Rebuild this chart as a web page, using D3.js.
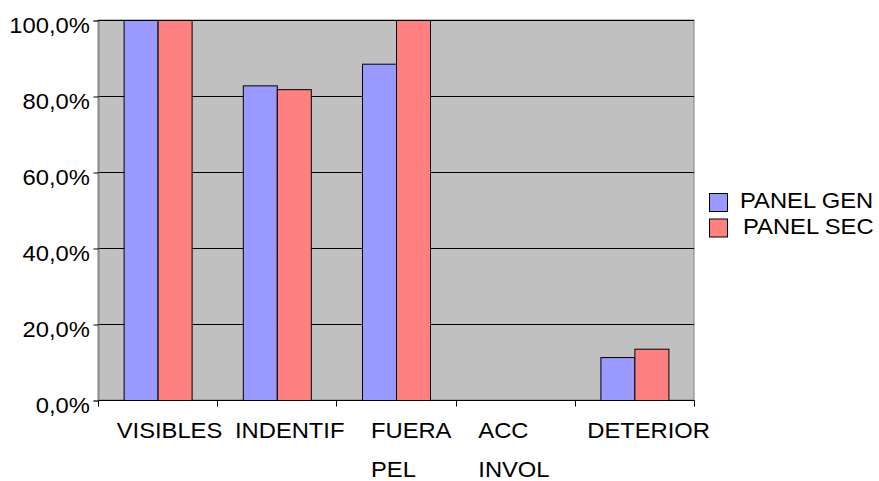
<!DOCTYPE html>
<html>
<head>
<meta charset="utf-8">
<script src="https://cdn.jsdelivr.net/npm/d3@7/dist/d3.min.js"></script>
<style>
  html, body { margin: 0; padding: 0; background: #fff; }
  svg { display: block; }
  text { font-family: "Liberation Sans", Arial, sans-serif; fill: #000; }
</style>
</head>
<body>
<svg id="chart" width="879" height="481"></svg>
<script>
// Category labels (each entry is the list of wrapped lines)
const categories = ["VISIBLES", "INDENTIF", "FUERA PEL", "ACC INVOL", "DETERIOR"];
const categoryLines = [["VISIBLES"], ["INDENTIF"], ["FUERA", "PEL"], ["ACC", "INVOL"], ["DETERIOR"]];
const seriesNames = ["PANEL GEN", "PANEL SEC"];
const panelGen = [100.0, 82.8, 88.5, 0, 11.3];
const panelSec = [100.0, 81.8, 100.0, 0, 13.5];
const yTicks = [0, 20, 40, 60, 80, 100];
const yTickLabels = ["0,0%", "20,0%", "40,0%", "60,0%", "80,0%", "100,0%"];

const colors = { "PANEL GEN": "#9999FF", "PANEL SEC": "#FF8080" };

// Plot frame
const plot = { left: 98, top: 20, right: 694, bottom: 400 };
// Horizontal start of each category label, measured from the band's left edge
const labelInset = [18.7, 17.8, 34.6, 22.7, 12.5];
// Text is drawn slightly wide
const FONT = 22, STRETCH = 1.08;

const svg = d3.select("#chart");

const x = d3.scaleBand().domain(categories).range([plot.left, plot.right]).padding(0);
const xs = d3.scaleBand().domain(seriesNames).range([0, x.bandwidth()])
  .paddingInner(0).paddingOuter(0.753);
const y = d3.scaleLinear().domain([0, 100]).range([plot.bottom, plot.top]);

// plot background
svg.append("rect")
  .attr("x", plot.left).attr("y", plot.top)
  .attr("width", plot.right - plot.left).attr("height", plot.bottom - plot.top)
  .attr("fill", "#C0C0C0").attr("stroke", "#808080").attr("stroke-width", 1);

// horizontal gridlines
svg.append("g").selectAll("line")
  .data(yTicks.filter(d => d > 0))
  .join("line")
  .attr("x1", plot.left).attr("x2", plot.right)
  .attr("y1", d => Math.round(y(d)) + 0.5).attr("y2", d => Math.round(y(d)) + 0.5)
  .attr("stroke", "#000").attr("stroke-width", 1);

// bars
const rows = categories.map((c, i) => ({ cat: c, values: [panelGen[i], panelSec[i]] }));
const groups = svg.append("g").selectAll("g")
  .data(rows)
  .join("g")
  .attr("transform", d => `translate(${x(d.cat)},0)`);

groups.selectAll("rect")
  .data(d => d.values.map((v, j) => ({ series: seriesNames[j], value: v })).filter(d => d.value > 0))
  .join("rect")
  .attr("x", d => xs(d.series) + 0.5)
  .attr("y", d => y(d.value) + 0.5)
  .attr("width", xs.bandwidth())
  .attr("height", d => y(0) - y(d.value))
  .attr("fill", d => colors[d.series])
  .attr("stroke", "#000").attr("stroke-width", 1);

// y axis
const yAxis = d3.axisLeft(y).tickValues(yTicks)
  .tickFormat((d, i) => yTickLabels[i]).tickSize(5).tickPadding(3);
const gy = svg.append("g").attr("transform", `translate(${plot.left + 0.5},0.5)`).call(yAxis);
gy.select(".domain").attr("stroke", "#808080");
gy.selectAll(".tick line").attr("stroke", "#000");
gy.selectAll(".tick text")
  .attr("font-size", FONT).attr("font-family", "Liberation Sans, Arial, sans-serif")
  .attr("dy", 11.6).attr("fill", "#000")
  .attr("transform", `scale(${STRETCH},1)`);

// x axis
const gx = svg.append("g").attr("transform", `translate(0.5,${plot.bottom + 0.5})`);
gx.append("line").attr("x1", plot.left).attr("x2", plot.right).attr("stroke", "#000");
const bounds = categories.map(c => x(c)).concat([plot.right]);
gx.selectAll(".xtick").data(bounds).join("line")
  .attr("class", "xtick")
  .attr("x1", d => Math.round(d)).attr("x2", d => Math.round(d))
  .attr("y1", 0).attr("y2", 6).attr("stroke", "#000");

// category labels
const lbl = svg.append("g").selectAll("text")
  .data(categories)
  .join("text")
  .attr("transform", (d, i) => `translate(${x(d) + labelInset[i]},438) scale(${STRETCH},1)`)
  .attr("font-size", FONT)
  .attr("text-anchor", "start");
lbl.selectAll("tspan")
  .data((d, i) => categoryLines[i])
  .join("tspan")
  .attr("x", 0)
  .attr("dy", (d, j) => j === 0 ? 0 : 39.5)
  .text(d => d);

// legend
const legend = svg.append("g").attr("transform", "translate(709,193)");
const li = legend.selectAll("g").data(seriesNames).join("g")
  .attr("transform", (d, i) => `translate(0,${i * 25.5})`);
li.append("rect")
  .attr("x", 0.5).attr("y", 0.5).attr("width", 18).attr("height", 18)
  .attr("fill", d => colors[d]).attr("stroke", "#000").attr("stroke-width", 1);
li.append("text")
  .attr("transform", (d, i) => `translate(${i === 0 ? 31 : 34},15) scale(${STRETCH},1)`)
  .attr("font-size", FONT)
  .text(d => d);
</script>
</body>
</html>
